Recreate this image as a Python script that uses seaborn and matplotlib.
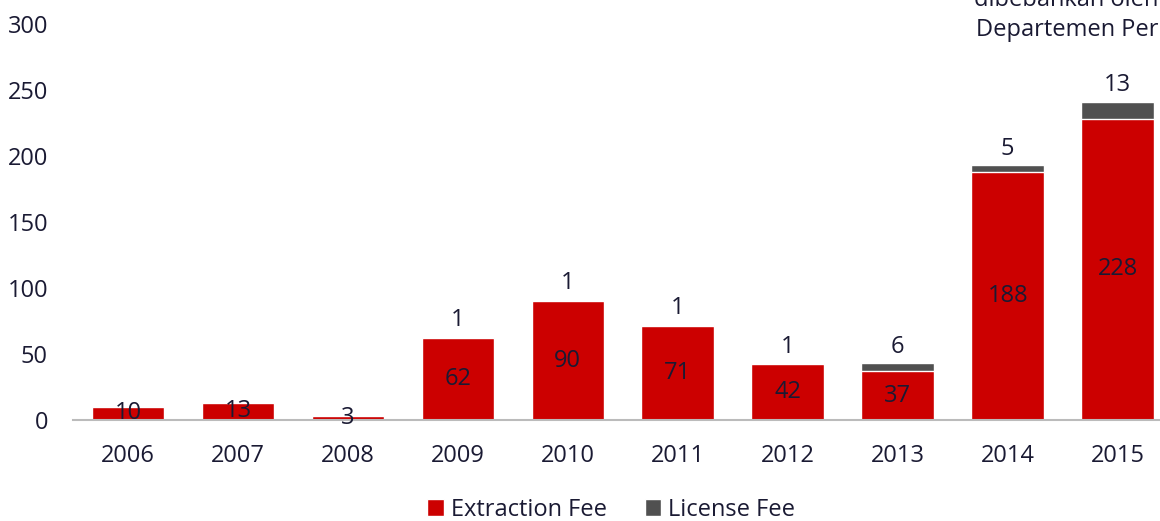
import matplotlib
matplotlib.use("Agg")
import matplotlib.pyplot as plt
import seaborn as sns
import pandas as pd
from matplotlib.patches import Patch

# data
years = ["2006", "2007", "2008", "2009", "2010", "2011", "2012", "2013", "2014", "2015"]
extraction_fee = [10, 13, 3, 62, 90, 71, 42, 37, 188, 228]
license_fee = [0, 0, 0, 1, 1, 1, 1, 6, 5, 13]
y_ticks = [0, 50, 100, 150, 200, 250, 300]

red = "#CC0000"
grey = "#505050"
ink = "#1a1a33"

df = pd.DataFrame({"year": years, "extraction": extraction_fee, "license": license_fee})
df["total"] = df["extraction"] + df["license"]

sns.set_style("white")
plt.rcParams["font.family"] = ["Open Sans", "DejaVu Sans"]

fig = plt.figure(figsize=(11.6, 5.21), dpi=100)
ax = fig.add_axes([0.0629, 0.194, 0.948, 0.760])

# total first (grey = license on top), then extraction over it
sns.barplot(data=df, x="year", y="total", color=grey, width=0.66, saturation=1, ax=ax)
sns.barplot(data=df, x="year", y="extraction", color=red, width=0.66, saturation=1, ax=ax)

for i, row in df.iterrows():
    ax.text(i, row["extraction"] / 2, str(row["extraction"]), ha="center", va="center",
            fontsize=17, color=ink)
    if row["license"] > 0:
        ax.annotate(str(row["license"]), (i, row["total"]), xytext=(0, 12),
                    textcoords="offset points", ha="center", va="center",
                    fontsize=17, color=ink)

ax.set_xlim(-0.5, 9.5)
ax.set_ylim(0, 300)
ax.set_yticks(y_ticks)
ax.set_xlabel("")
ax.set_ylabel("")
sns.despine(ax=ax, left=True)
ax.spines["bottom"].set_color("#bbbbbb")
ax.spines["bottom"].set_linewidth(1.5)
ax.tick_params(axis="x", length=0, pad=17, labelsize=17, labelcolor=ink)
ax.tick_params(axis="y", length=0, pad=18, labelsize=17, labelcolor=ink)

handles = [Patch(facecolor=red, label="Extraction Fee"), Patch(facecolor=grey, label="License Fee")]
fig.legend(handles=handles, loc="center", bbox_to_anchor=(0.527, 0.022), ncol=2, frameon=False,
           fontsize=17, handlelength=0.7, handleheight=0.7, handletextpad=0.3,
           columnspacing=1.6, labelcolor=ink)

# source note in the top-right corner (first line runs off the top, as in the original)
fig.text(0.999, 1.0, "dibebankan oleh", fontsize=17, color=ink, va="center", ha="right")
fig.text(0.999, 0.942, "Departemen Per", fontsize=17, color=ink, va="center", ha="right")

fig.savefig("out.png", dpi=100)
